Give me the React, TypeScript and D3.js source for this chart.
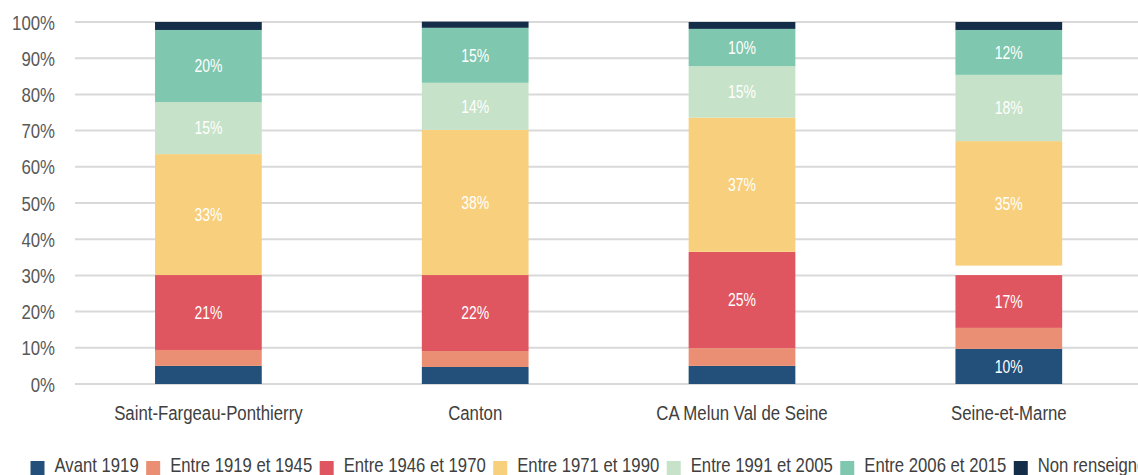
import React, { useEffect, useRef } from "react";
import * as d3 from "d3";

const categories = ["Saint-Fargeau-Ponthierry", "Canton", "CA Melun Val de Seine", "Seine-et-Marne"];

const avant1919 = [5.0, 4.7, 5.0, 9.7];
const entre1919_1945 = [4.4, 4.4, 4.9, 5.8];
const entre1946_1970 = [20.7, 21.0, 26.6, 14.6];
const blankGap = [0, 0, 0, 2.6];
const entre1971_1990 = [33.4, 40.1, 37.1, 34.4];
const entre1991_2005 = [14.4, 13.0, 14.2, 18.3];
const entre2006_2015 = [19.9, 15.2, 10.3, 12.4];
const nonRenseigne = [2.2, 1.7, 1.9, 2.2];

const labelsAvant1919 = [null, null, null, "10%"];
const labelsEntre1946_1970 = ["21%", "22%", "25%", "17%"];
const labelsEntre1971_1990 = ["33%", "38%", "37%", "35%"];
const labelsEntre1991_2005 = ["15%", "14%", "15%", "18%"];
const labelsEntre2006_2015 = ["20%", "15%", "10%", "12%"];

const yTicks = [0, 10, 20, 30, 40, 50, 60, 70, 80, 90, 100];

const series = [
  { key: "Avant 1919", color: "#23507a", values: avant1919, labels: labelsAvant1919, legend: true },
  { key: "Entre 1919 et 1945", color: "#ea8f73", values: entre1919_1945, labels: null, legend: true },
  { key: "Entre 1946 et 1970", color: "#e05660", values: entre1946_1970, labels: labelsEntre1946_1970, legend: true },
  { key: "gap", color: "#ffffff", values: blankGap, labels: null, legend: false },
  { key: "Entre 1971 et 1990", color: "#f8d07d", values: entre1971_1990, labels: labelsEntre1971_1990, legend: true },
  { key: "Entre 1991 et 2005", color: "#c6e2c8", values: entre1991_2005, labels: labelsEntre1991_2005, legend: true },
  { key: "Entre 2006 et 2015", color: "#7fc7ae", values: entre2006_2015, labels: labelsEntre2006_2015, legend: true },
  { key: "Non renseigné", color: "#142d48", values: nonRenseigne, labels: null, legend: true },
];

const FONT = "'Liberation Sans', Arial, sans-serif";

export default function App() {
  const ref = useRef<SVGSVGElement | null>(null);

  useEffect(() => {
    document.body.style.margin = "0";
    const svg = d3.select(ref.current);
    svg.selectAll("*").remove();

    const W = 1138;
    const left = 75, step = 266.8;
    const x = d3.scaleBand<string>().domain(categories).range([left, left + step * categories.length]).paddingInner(0.6).paddingOuter(0.3);
    const y = d3.scaleLinear().domain([0, 100]).range([384, 22]);

    const narrowText = (g: any, tx: number, ty: number, sx: number) =>
      g.append("text").attr("transform", `translate(${tx},${ty}) scale(${sx},1)`).attr("font-family", FONT);

    // gridlines
    svg.append("g").selectAll("line").data(yTicks).join("line")
      .attr("x1", left).attr("x2", W)
      .attr("y1", (d) => y(d)).attr("y2", (d) => y(d))
      .attr("stroke", "#d9d9d9").attr("stroke-width", 2);

    // y labels
    const yg = svg.append("g");
    yTicks.forEach((d) => {
      narrowText(yg, 55, y(d) + 7.5, 0.8)
        .attr("text-anchor", "end").attr("font-size", 21).attr("fill", "#595959")
        .text(d + "%");
    });

    const rows = categories.map((c, i) => {
      const r: any = { cat: c };
      series.forEach((s) => (r[s.key] = s.values[i]));
      return r;
    });
    const stacked = d3.stack<any>().keys(series.map((s) => s.key))(rows);

    stacked.forEach((layer, si) => {
      const s = series[si];
      const g = svg.append("g");
      g.selectAll("rect").data(layer).join("rect")
        .attr("x", (d) => x(d.data.cat)!)
        .attr("width", x.bandwidth())
        .attr("y", (d) => y(d[1]))
        .attr("height", (d) => Math.max(0, y(d[0]) - y(d[1])))
        .attr("fill", s.color);
      if (s.labels) {
        const labs = s.labels;
        layer.forEach((d, i) => {
          if (!labs[i]) return;
          narrowText(g, x(d.data.cat)! + x.bandwidth() / 2, (y(d[0]) + y(d[1])) / 2 + 6.3, 0.8)
            .attr("text-anchor", "middle").attr("font-size", 17.5).attr("fill", "#ffffff")
            .text(labs[i]);
        });
      }
    });

    // category labels
    const cg = svg.append("g");
    categories.forEach((c) => {
      narrowText(cg, x(c)! + x.bandwidth() / 2, 420, 0.8)
        .attr("text-anchor", "middle").attr("font-size", 21).attr("fill", "#404040")
        .text(c);
    });

    // legend
    const lg = svg.append("g");
    let cx = 30.5;
    const sx = 0.795;
    series.filter((s) => s.legend).forEach((s) => {
      lg.append("rect").attr("x", cx).attr("y", 461).attr("width", 14).attr("height", 14).attr("fill", s.color);
      const t = narrowText(lg, cx + 24, 472, sx)
        .attr("font-size", 21).attr("fill", "#404040").text(s.key);
      const w = (t.node() as SVGTextElement).getComputedTextLength() * sx;
      cx += 24 + w + 7.5;
    });
  }, []);

  return <svg ref={ref} width={1138} height={475} style={{ display: "block" }} />;
}
